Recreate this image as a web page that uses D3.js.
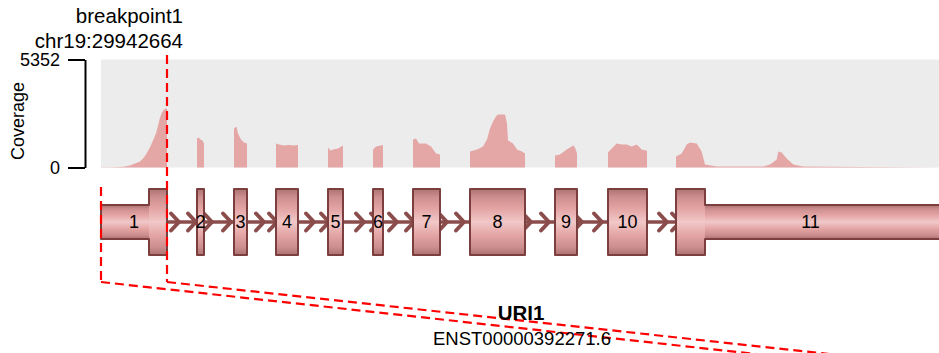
<!DOCTYPE html>
<html>
<head>
<meta charset="utf-8">
<script src="https://cdn.jsdelivr.net/npm/d3@7"></script>
<style>
  body { margin: 0; background: #fff; }
  svg { display: block; font-family: "Liberation Sans", Arial, sans-serif; }
</style>
</head>
<body>
<svg id="chart" width="939" height="353"></svg>
<script>
// gene layout in compressed plot units (introns shrunk)
const exonLabels = ["1", "2", "3", "4", "5", "6", "7", "8", "9", "10", "11"];
const exonStart = [0, 96, 133, 175, 227, 272, 312, 369, 454, 507, 575];
const exonEnd = [66, 103, 146, 197, 242, 282, 339, 424, 476, 546, 844];
const codingStart = 48;
const codingEnd = 604;
const breakpointPos = 66;
const breakpointLabel = ["breakpoint1", "chr19:29942664"];
const geneName = "URI1";
const transcriptId = "ENST00000392271.6";
const coverageMax = 5352;
const intronArrows = [74, 91, 107, 126, 159, 172, 209, 224, 259, 274, 292, 309, 342, 359, 426, 444, 477, 497, 562, 575];

// coverage per exon: [position, reads]
const covExon1 = [[0, 15], [9, 15], [19, 25], [24, 50], [29, 100], [34, 200], [39, 300], [42, 450], [45, 650], [49, 1000], [52, 1340], [55, 1690], [57, 2080], [59, 2480], [61, 2730], [63, 2870], [65, 2920], [66, 2920]];
const covExon2 = [[96, 1440], [97.5, 1490], [99.5, 1390], [101.5, 1340], [103, 1190]];
const covExon3 = [[133, 1930], [135.5, 2030], [137, 1690], [140, 1390], [143, 1240], [146, 1190]];
const covExon4 = [[175, 1190], [178, 1140], [183, 1090], [188, 1115], [193, 1090], [197, 1115]];
const covExon5 = [[227, 990], [229.5, 840], [232, 890], [237, 940], [242, 1090]];
const covExon6 = [[272, 890], [275, 1040], [282, 1120]];
const covExon7 = [[312, 1390], [315, 1440], [318, 1190], [325, 1190], [330, 1040], [335, 690], [339, 640]];
const covExon8 = [[369, 790], [376, 890], [382, 1040], [386, 1390], [389, 1930], [392, 2280], [395, 2530], [397, 2630], [404, 2630], [406, 2180], [407, 1340], [412, 1190], [416, 890], [421, 790], [424, 690]];
const covExon9 = [[454, 595], [459, 645], [465.7, 890], [472.3, 1090], [474, 990], [476, 690]];
const covExon10 = [[507, 740], [510.7, 940], [515.7, 1190], [520.7, 1140], [525.7, 1140], [530.7, 1040], [535.7, 1140], [540.7, 890], [544.7, 840], [546, 840]];
const covExon11 = [[575, 545], [580.7, 695], [585.7, 1140], [589, 1240], [595.7, 1190], [600.7, 790], [604, 150], [615.7, 50], [662.3, 50], [669, 150], [675.7, 400], [677.3, 790], [680.7, 745], [685.7, 445], [692.3, 150], [702.3, 50], [760, 25], [844, 0]];
const coverage = [covExon1, covExon2, covExon3, covExon4, covExon5, covExon6, covExon7, covExon8, covExon9, covExon10, covExon11];

const svg = d3.select("#chart");

const x = d3.scaleLinear().domain([0, 838]).range([101, 939]);
const yCov = d3.scaleLinear().domain([0, coverageMax]).range([167.5, 59.5]);

const geneY = 222;
const codingHalf = 33;
const utrHalf = 17;

const exonStroke = "#7b3f3f";
const intronColor = "#8b4c4c";
const breakColor = "#ff0000";

// gradient for exon boxes
const defs = svg.append("defs");
const grad = defs.append("linearGradient")
  .attr("id", "exonGrad")
  .attr("x1", 0).attr("y1", 0).attr("x2", 0).attr("y2", 1);
[[0, "#ad7272"], [0.12, "#cc8e8e"], [0.3, "#e4a4a4"], [0.5, "#f1c8c8"], [0.7, "#e4a4a4"], [0.88, "#cc8e8e"], [1, "#ad7272"]]
  .forEach(s => grad.append("stop").attr("offset", s[0]).attr("stop-color", s[1]));

// coverage panel
svg.append("rect")
  .attr("x", x(0))
  .attr("y", yCov(coverageMax))
  .attr("width", 939 - x(0))
  .attr("height", yCov(0) - yCov(coverageMax))
  .attr("fill", "#ececec");

const area = d3.area()
  .x(d => x(d[0]))
  .y0(yCov(0))
  .y1(d => yCov(d[1]));

svg.append("g").selectAll("path")
  .data(coverage)
  .enter()
  .append("path")
  .attr("d", area)
  .attr("fill", "#e5a6a6");

// y axis
const yAxis = svg.append("g")
  .attr("transform", "translate(85,0)")
  .call(d3.axisLeft(yCov).tickValues([0, coverageMax]).tickFormat(d3.format("d"))
    .tickSize(17).tickSizeOuter(0).tickPadding(8));
yAxis.select(".domain").attr("stroke", "#000").attr("stroke-width", 2);
yAxis.selectAll(".tick line").attr("stroke", "#000").attr("stroke-width", 2);
yAxis.selectAll(".tick text")
  .attr("fill", "#000")
  .style("font-size", "18px")
  .style("font-family", "Liberation Sans, Arial, sans-serif");

svg.append("text")
  .attr("transform", "translate(24,121) rotate(-90)")
  .attr("text-anchor", "middle")
  .style("font-size", "18px")
  .text("Coverage");

// intron line with arrows
svg.append("line")
  .attr("x1", x(exonEnd[0])).attr("x2", x(exonStart[exonStart.length - 1]))
  .attr("y1", geneY).attr("y2", geneY)
  .attr("stroke", intronColor)
  .attr("stroke-width", 3.5);

svg.append("g").selectAll("path")
  .data(intronArrows)
  .enter()
  .append("path")
  .attr("d", d => `M${x(d) - 4},${geneY - 8.5}L${x(d) + 4},${geneY}L${x(d) - 4},${geneY + 8.5}`)
  .attr("fill", "none")
  .attr("stroke", intronColor)
  .attr("stroke-width", 4)
  .attr("stroke-linejoin", "round")
  .attr("stroke-linecap", "round");

// exons
const exons = exonStart.map((s, i) => ({ start: s, end: exonEnd[i], label: exonLabels[i] }));

function segments(e) {
  const cuts = [e.start, codingStart, codingEnd, e.end]
    .filter(v => v >= e.start && v <= e.end)
    .sort((a, b) => a - b);
  const segs = [];
  for (let i = 0; i < cuts.length - 1; i++) {
    if (cuts[i + 1] <= cuts[i]) continue;
    const mid = (cuts[i] + cuts[i + 1]) / 2;
    const coding = mid > codingStart && mid < codingEnd;
    segs.push({ x0: cuts[i], x1: cuts[i + 1], half: coding ? codingHalf : utrHalf });
  }
  return segs;
}

function outline(e) {
  const segs = segments(e);
  let top = [];
  segs.forEach(s => {
    top.push([x(s.x0), geneY - s.half]);
    top.push([x(s.x1), geneY - s.half]);
  });
  const bottom = top.map(p => [p[0], 2 * geneY - p[1]]).reverse();
  return "M" + top.concat(bottom).map(p => p.join(",")).join("L") + "Z";
}

const exonG = svg.append("g").selectAll("g")
  .data(exons)
  .enter()
  .append("g");

exonG.selectAll("rect")
  .data(d => segments(d))
  .enter()
  .append("rect")
  .attr("x", s => x(s.x0))
  .attr("width", s => x(s.x1) - x(s.x0))
  .attr("y", s => geneY - s.half)
  .attr("height", s => 2 * s.half)
  .attr("fill", "url(#exonGrad)");

exonG.append("path")
  .attr("d", d => outline(d))
  .attr("fill", "none")
  .attr("stroke", exonStroke)
  .attr("stroke-width", 2)
  .attr("stroke-linejoin", "round");

exonG.append("text")
  .attr("x", d => x((d.start + Math.min(d.end, 838 + 6)) / 2))
  .attr("y", geneY)
  .attr("dy", "0.36em")
  .attr("text-anchor", "middle")
  .style("font-size", "18px")
  .text(d => d.label);

// breakpoint markers
const dash = "9,5";
svg.append("line")
  .attr("x1", x(breakpointPos)).attr("x2", x(breakpointPos))
  .attr("y1", 55).attr("y2", 282)
  .attr("stroke", breakColor).attr("stroke-width", 2.2).attr("stroke-dasharray", dash);
svg.append("line")
  .attr("x1", x(0)).attr("x2", x(0))
  .attr("y1", 187).attr("y2", 282)
  .attr("stroke", breakColor).attr("stroke-width", 2.2).attr("stroke-dasharray", dash);
svg.append("line")
  .attr("x1", x(breakpointPos)).attr("y1", 282)
  .attr("x2", x(breakpointPos) + 118 / 0.1088).attr("y2", 400)
  .attr("stroke", breakColor).attr("stroke-width", 2.2).attr("stroke-dasharray", dash);
svg.append("line")
  .attr("x1", x(0)).attr("y1", 282)
  .attr("x2", x(0) + 118 / 0.110).attr("y2", 400)
  .attr("stroke", breakColor).attr("stroke-width", 2.2).attr("stroke-dasharray", dash);

svg.append("g").selectAll("text")
  .data(breakpointLabel)
  .enter()
  .append("text")
  .attr("x", x(breakpointPos) + 16)
  .attr("y", (d, i) => 23 + i * 25)
  .attr("text-anchor", "end")
  .style("font-size", "20.5px")
  .text(d => d);

// gene name and transcript
svg.append("text")
  .attr("x", 521).attr("y", 320)
  .attr("text-anchor", "middle")
  .style("font-size", "20.5px")
  .style("font-weight", "bold")
  .text(geneName);
svg.append("text")
  .attr("x", 522).attr("y", 345)
  .attr("text-anchor", "middle")
  .style("font-size", "18.5px")
  .text(transcriptId);
</script>
</body>
</html>
